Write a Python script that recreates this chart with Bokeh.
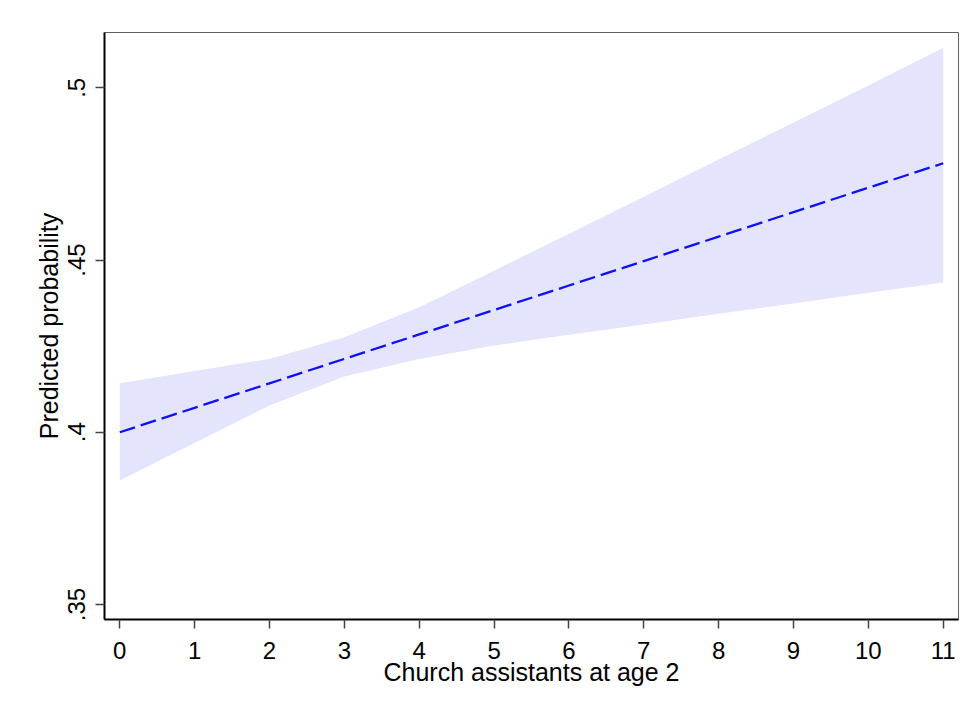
from bokeh.plotting import figure
from bokeh.models import Range1d, FixedTicker
from bokeh.embed import file_html
from bokeh.resources import INLINE

# Data
church_assistants = [0, 1, 2, 3, 4, 5, 6, 7, 8, 9, 10, 11]
predicted = [0.4000, 0.4071, 0.4142, 0.4213, 0.4284, 0.4355,
             0.4426, 0.4497, 0.4568, 0.4639, 0.4710, 0.4781]
ci_upper = [0.4142, 0.4178, 0.4213, 0.4276, 0.4363, 0.4469,
            0.4576, 0.4684, 0.4792, 0.4899, 0.5007, 0.5116]
ci_lower = [0.3860, 0.3969, 0.4078, 0.4162, 0.4213, 0.4252,
            0.4283, 0.4313, 0.4344, 0.4374, 0.4405, 0.4435]
y_ticks = [0.35, 0.40, 0.45, 0.50]
y_tick_labels = [".35", ".4", ".45", ".5"]
x_ticks = list(range(0, 12))

FONT = "Liberation Sans"

p = figure(width=963, height=708, output_backend="svg", toolbar_location=None,
           x_range=Range1d(-0.204, 11.204), y_range=Range1d(0.34564, 0.51606),
           min_border_left=104, min_border_right=5, min_border_top=32,
           min_border_bottom=89)

p.background_fill_color = "white"
p.border_fill_color = "white"
p.outline_line_color = "#606060"
p.outline_line_width = 1
p.grid.visible = False

p.varea(x=church_assistants, y1=ci_lower, y2=ci_upper, fill_color="#E4E4FC",
        fill_alpha=1.0)
p.line(church_assistants, predicted, line_color="#1010F5", line_width=2.3,
       line_dash="16 6", line_cap="butt")

for ax in (p.xaxis[0], p.yaxis[0]):
    ax.axis_line_color = "black"
    ax.axis_line_width = 2
    ax.major_tick_line_color = "#444444"
    ax.major_tick_line_width = 1.5
    ax.major_tick_out = 9
    ax.major_tick_in = 0
    ax.minor_tick_line_color = None
    ax.major_label_text_font = FONT
    ax.major_label_text_font_size = "24px"
    ax.major_label_text_color = "black"
    ax.axis_label_text_font = FONT
    ax.axis_label_text_font_size = "25px"
    ax.axis_label_text_font_style = "normal"
    ax.axis_label_text_color = "black"

p.xaxis.ticker = FixedTicker(ticks=x_ticks)
p.xaxis.axis_label = "Church assistants at age 2"
p.xaxis.major_label_standoff = 13
p.xaxis.axis_label_standoff = -4

p.yaxis.ticker = FixedTicker(ticks=y_ticks)
p.yaxis.major_label_overrides = {t: l for t, l in zip(y_ticks, y_tick_labels)}
p.yaxis.major_label_orientation = "vertical"
p.yaxis.axis_label = "Predicted probability"
p.yaxis.major_label_standoff = 10
p.yaxis.axis_label_standoff = 3

open("out.html", "w").write(file_html(p, INLINE))
